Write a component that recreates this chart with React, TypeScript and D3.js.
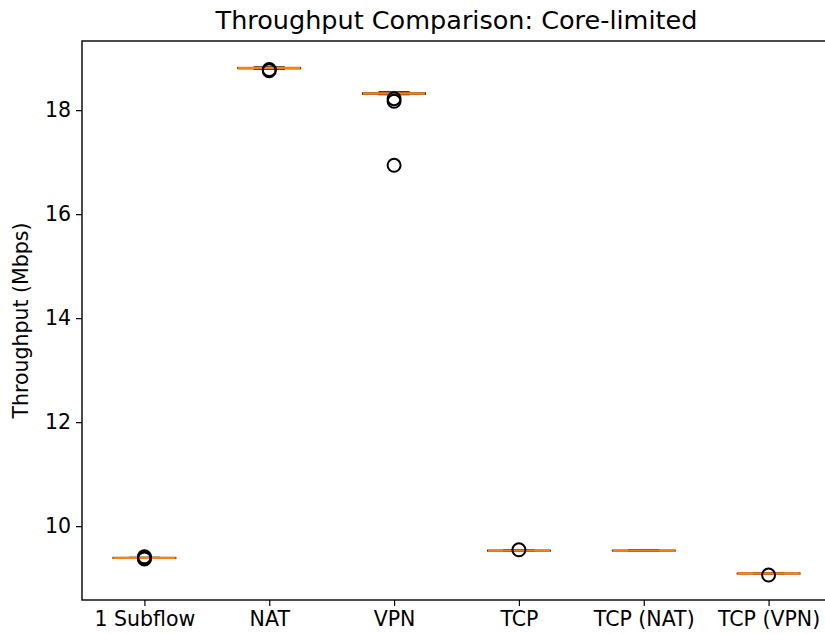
import React, { useRef, useEffect } from 'react';
import * as d3 from 'd3';

// categories and box statistics (Mbps)
const categories = ['1 Subflow', 'NAT', 'VPN', 'TCP', 'TCP (NAT)', 'TCP (VPN)'];
const medians = [9.39, 18.81, 18.32, 9.53, 9.53, 9.09];
const q1 = [9.385, 18.8, 18.31, 9.525, 9.525, 9.085];
const q3 = [9.395, 18.815, 18.33, 9.535, 9.535, 9.095];
const whiskerLow = [9.38, 18.79, 18.3, 9.52, 9.52, 9.08];
const whiskerHigh = [9.4, 18.83, 18.35, 9.54, 9.54, 9.1];
const outliers = [[9.37, 9.38, 9.4, 9.41], [18.76, 18.78], [18.17, 18.22, 16.94], [9.545], [], [9.06]];
const yTicks = [10, 12, 14, 16, 18];

function App() {
  const svgRef = useRef<SVGSVGElement>(null);

  useEffect(() => {
    const width = 825;
    const height = 634;
    const left = 82, right = 831, top = 41, bottom = 600;
    const font = 'DejaVu Sans, sans-serif';

    const svg = d3.select(svgRef.current)
      .attr('width', width)
      .attr('height', height);
    svg.selectAll('*').remove();

    const x = d3.scaleLinear().domain([0.5, categories.length + 0.5]).range([left, right]);
    const y = d3.scaleLinear().domain([8.58, 19.33]).range([bottom, top]);
    const boxW = (x(1.5) - x(1)); // box width 0.5 units
    const capW = boxW / 2;

    // axes
    const yAxis = svg.append('g')
      .attr('transform', `translate(${left},0)`)
      .call(d3.axisLeft(y).tickValues(yTicks).tickSize(6).tickPadding(5).tickFormat(d3.format('d')));
    const xAxis = svg.append('g')
      .attr('transform', `translate(0,${bottom})`)
      .call(d3.axisBottom(x).tickValues(d3.range(1, categories.length + 1))
        .tickSize(6).tickPadding(5).tickFormat((d) => categories[(d as number) - 1]));
    [yAxis, xAxis].forEach((g) => {
      g.select('.domain').remove();
      g.selectAll('line').attr('stroke', '#000').attr('stroke-width', 1.2);
      g.selectAll('text').attr('fill', '#000').style('font-family', font).style('font-size', '20.5px');
    });

    // frame
    svg.append('rect')
      .attr('x', left).attr('y', top)
      .attr('width', right - left).attr('height', bottom - top)
      .attr('fill', 'none').attr('stroke', '#000').attr('stroke-width', 1.4);

    const boxes = svg.append('g');
    categories.forEach((c, i) => {
      const cx = x(i + 1);
      const g = boxes.append('g');
      // whiskers
      g.append('line').attr('x1', cx).attr('x2', cx).attr('y1', y(q1[i])).attr('y2', y(whiskerLow[i]))
        .attr('stroke', '#000').attr('stroke-width', 1.4);
      g.append('line').attr('x1', cx).attr('x2', cx).attr('y1', y(q3[i])).attr('y2', y(whiskerHigh[i]))
        .attr('stroke', '#000').attr('stroke-width', 1.4);
      // caps
      [whiskerLow[i], whiskerHigh[i]].forEach((v) => {
        g.append('line').attr('x1', cx - capW / 2).attr('x2', cx + capW / 2).attr('y1', y(v)).attr('y2', y(v))
          .attr('stroke', '#000').attr('stroke-width', 1.4);
      });
      // box
      g.append('rect')
        .attr('x', cx - boxW / 2).attr('y', y(q3[i]))
        .attr('width', boxW).attr('height', Math.max(0, y(q1[i]) - y(q3[i])))
        .attr('fill', 'none').attr('stroke', '#000').attr('stroke-width', 1.4);
      // median
      g.append('line').attr('x1', cx - boxW / 2).attr('x2', cx + boxW / 2)
        .attr('y1', y(medians[i])).attr('y2', y(medians[i]))
        .attr('stroke', '#ff7f0e').attr('stroke-width', 2.4);
      // fliers
      g.selectAll('circle').data(outliers[i]).enter().append('circle')
        .attr('cx', cx).attr('cy', (d) => y(d)).attr('r', 6.5)
        .attr('fill', 'none').attr('stroke', '#000').attr('stroke-width', 2);
    });

    svg.append('text')
      .attr('x', (left + right) / 2).attr('y', 29)
      .attr('text-anchor', 'middle')
      .style('font-family', font).style('font-size', '25.5px')
      .text('Throughput Comparison: Core-limited');

    svg.append('text')
      .attr('transform', `translate(28,${(top + bottom) / 2}) rotate(-90)`)
      .attr('text-anchor', 'middle')
      .style('font-family', font).style('font-size', '20.5px')
      .text('Throughput (Mbps)');
  }, []);

  return (
    <div style={{ position: 'absolute', left: 0, top: 0 }}>
      <svg ref={svgRef}></svg>
    </div>
  );
}

export default App;
